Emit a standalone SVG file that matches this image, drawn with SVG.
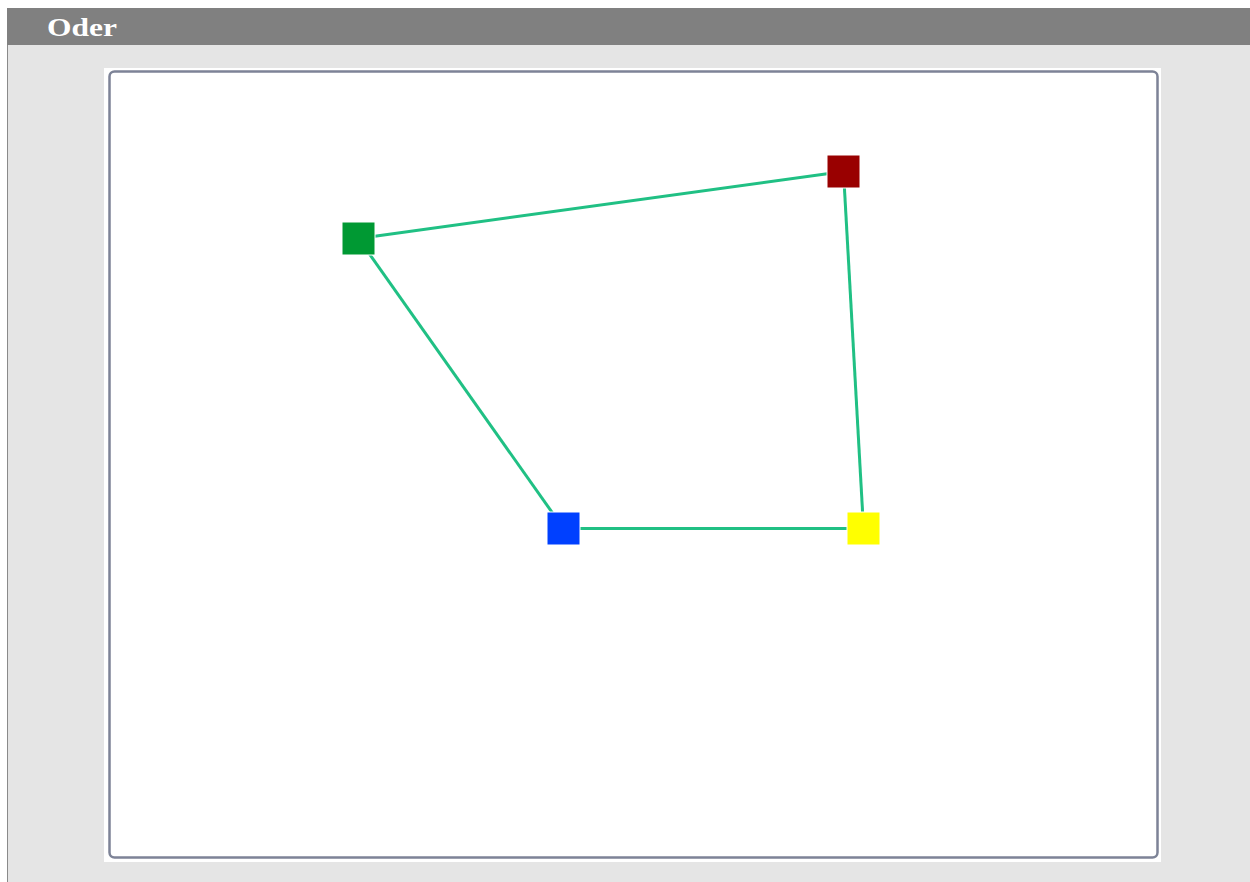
<svg xmlns="http://www.w3.org/2000/svg" width="1250" height="882" viewBox="0 0 1250 882">
<style>
.edge{stroke:#20c084;stroke-width:3;fill:none}
.node{stroke:#ffffff;stroke-width:1}
.title{font-family:"Liberation Serif","DejaVu Serif",serif;font-weight:bold;font-size:25px;fill:#ffffff}
</style>
<rect x="0" y="0" width="1250" height="882" fill="#ffffff"/>
<rect x="7" y="45" width="1243" height="837" fill="#e5e5e5"/>
<line x1="7.5" y1="45" x2="7.5" y2="882" stroke="#8a8a8a" stroke-width="1"/>
<g id="header">
<rect x="7" y="8" width="1243" height="37" fill="#808080"/>
<text class="title" x="47" y="36" textLength="70" lengthAdjust="spacingAndGlyphs">Oder</text>
</g>
<rect x="104" y="68" width="1057" height="794" fill="#ffffff"/>
<rect x="109.5" y="71.5" width="1048" height="786" rx="5" ry="5" fill="none" stroke="#7d8397" stroke-width="2.5"/>
<g id="connectors">
<line class="edge" x1="358.5" y1="238.5" x2="843.5" y2="171.5"/>
<line class="edge" x1="843.5" y1="171.5" x2="863.5" y2="528.5"/>
<line class="edge" x1="358.5" y1="238.5" x2="563.5" y2="528.5"/>
<line class="edge" x1="563.5" y1="528.5" x2="863.5" y2="528.5"/>
</g>
<g id="node-green"><rect class="node" x="342" y="222" width="33" height="33" fill="#009933"/></g>
<g id="node-red"><rect class="node" x="827" y="155" width="33" height="33" fill="#990000"/></g>
<g id="node-blue"><rect class="node" x="547" y="512" width="33" height="33" fill="#0040ff"/></g>
<g id="node-yellow"><rect class="node" x="847" y="512" width="33" height="33" fill="#ffff00"/></g>
</svg>
